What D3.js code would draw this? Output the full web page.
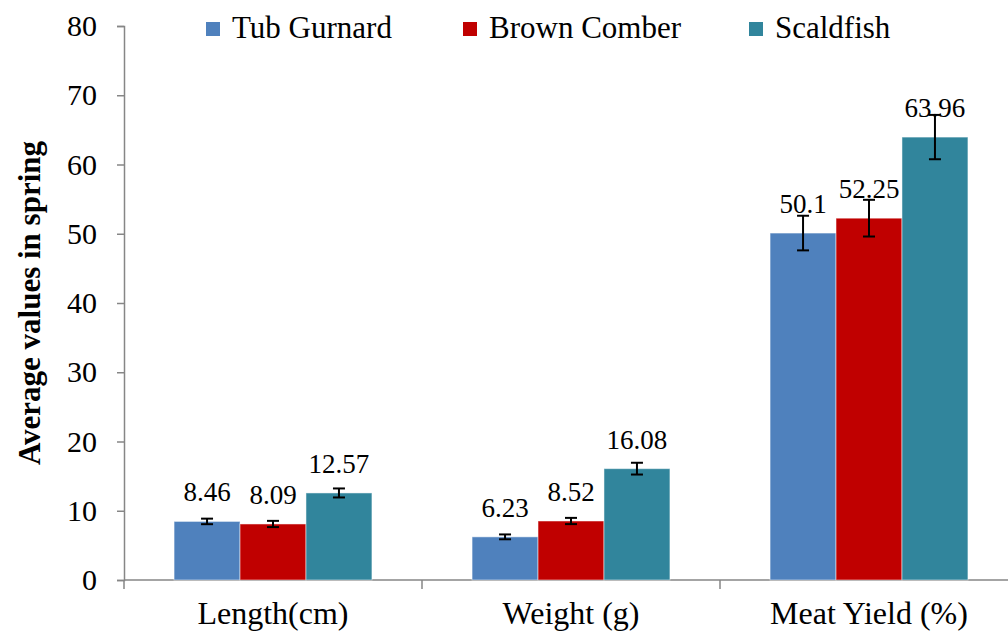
<!DOCTYPE html>
<html>
<head>
<meta charset="utf-8">
<script src="https://cdn.jsdelivr.net/npm/d3@7"></script>
<style>
  body { margin: 0; background: #fff; }
</style>
</head>
<body>
<div id="chart"></div>
<script>
// Categories and series
var categories = ["Length(cm)", "Weight (g)", "Meat Yield (%)"]
var seriesNames = ["Tub Gurnard", "Brown Comber", "Scaldfish"]
var tubGurnard = [8.46, 6.23, 50.1]
var brownComber = [8.09, 8.52, 52.25]
var scaldfish = [12.57, 16.08, 63.96]
// Error bar half-lengths
var errTub = [0.4, 0.35, 2.5]
var errBrown = [0.45, 0.45, 2.65]
var errScald = [0.65, 0.85, 3.2]
var yTicks = [0, 10, 20, 30, 40, 50, 60, 70, 80]

var width = 1008
var height = 632
var color = ["#4F81BD", "#C00000", "#31859C"]
var serif = 'Liberation Serif'

var plotLeft = 124, plotTop = 26, plotBottom = 580
var bandW = 298

var svg = d3.select('#chart')
    .append('svg')
    .attr('width', width)
    .attr('height', height)

var values = [tubGurnard, brownComber, scaldfish]
var errs = [errTub, errBrown, errScald]

var rows = []
categories.forEach((c, i) => {
    seriesNames.forEach((s, j) => {
        rows.push({ cat: c, series: s, idx: j, value: values[j][i], err: errs[j][i] })
    })
})

var xScale = d3.scaleBand()
    .domain(categories)
    .range([plotLeft, plotLeft + bandW * categories.length])
    .paddingInner(0.336)
    .paddingOuter(0.168)

var xSub = d3.scaleBand()
    .domain(seriesNames)
    .range([0, xScale.bandwidth()])

var yScale = d3.scaleLinear()
    .domain([0, 80])
    .range([plotBottom, plotTop])

// x axis: ticks at category boundaries
var xAxisG = svg.append('g')
xAxisG.append('line')
    .attr('x1', plotLeft).attr('x2', plotLeft + bandW * categories.length)
    .attr('y1', plotBottom).attr('y2', plotBottom)
    .attr('stroke', '#868686').attr('stroke-width', 1.5)
xAxisG.selectAll('.xtick')
    .data(d3.range(categories.length + 1))
    .join('line')
    .attr('x1', i => plotLeft + i * bandW).attr('x2', i => plotLeft + i * bandW)
    .attr('y1', plotBottom).attr('y2', plotBottom + 9)
    .attr('stroke', '#868686').attr('stroke-width', 1.5)
xAxisG.selectAll('.xlabel')
    .data(categories)
    .join('text')
    .attr('x', d => xScale(d) + xScale.bandwidth() / 2)
    .attr('y', 624)
    .attr('text-anchor', 'middle')
    .style('font-family', serif)
    .style('font-size', '32px')
    .text(d => d)

// y axis
var yAxis = d3.axisLeft(yScale)
    .tickValues(yTicks)
    .tickSize(7)
    .tickPadding(20)
var yAxisG = svg.append('g')
    .attr('transform', `translate(${plotLeft},0)`)
    .call(yAxis)
yAxisG.select('.domain').attr('stroke', '#868686').attr('stroke-width', 1.5)
yAxisG.selectAll('.tick line').attr('stroke', '#868686').attr('stroke-width', 1.5)
yAxisG.selectAll('.tick text')
    .attr('fill', '#000')
    .style('font-family', serif)
    .style('font-size', '30px')

// y axis title
svg.append('text')
    .attr('transform', `translate(40,${(plotTop + plotBottom) / 2})rotate(-90)`)
    .attr('text-anchor', 'middle')
    .style('font-family', serif)
    .style('font-size', '31px')
    .style('font-weight', 'bold')
    .text('Average values in spring')

// bars
var barX = d => xScale(d.cat) + xSub(d.series)
svg.append('g')
    .selectAll('rect')
    .data(rows)
    .join('rect')
    .attr('x', barX)
    .attr('y', d => yScale(d.value))
    .attr('width', xSub.bandwidth())
    .attr('height', d => plotBottom - yScale(d.value))
    .attr('fill', d => color[d.idx])
    .attr('stroke', '#ffffff')
    .attr('stroke-opacity', 0.5)
    .attr('stroke-width', 1)

// error bars
var errG = svg.append('g').attr('stroke', '#000').attr('stroke-width', 2)
rows.forEach(d => {
    var cx = barX(d) + xSub.bandwidth() / 2
    var y1 = yScale(d.value + d.err), y2 = yScale(d.value - d.err)
    errG.append('line').attr('x1', cx).attr('x2', cx).attr('y1', y1).attr('y2', y2)
    errG.append('line').attr('x1', cx - 6).attr('x2', cx + 6).attr('y1', y1).attr('y2', y1)
    errG.append('line').attr('x1', cx - 6).attr('x2', cx + 6).attr('y1', y2).attr('y2', y2)
})

// value labels
svg.append('g')
    .selectAll('text')
    .data(rows)
    .join('text')
    .attr('x', d => barX(d) + xSub.bandwidth() / 2)
    .attr('y', d => yScale(d.value) - 20)
    .attr('text-anchor', 'middle')
    .style('font-family', serif)
    .style('font-size', '27px')
    .text(d => d.value)

// legend
var legend = svg.append('g')
var legendX = [206, 463, 749]
seriesNames.forEach((s, v) => {
    var row = legend.append('g').attr('transform', `translate(${legendX[v]}, 22)`)
    row.append('rect').attr('width', 14).attr('height', 14).attr('fill', color[v])
    row.append('text')
        .attr('x', 26).attr('y', 16)
        .style('font-family', serif)
        .style('font-size', '31px')
        .text(s)
})
</script>
</body>
</html>
